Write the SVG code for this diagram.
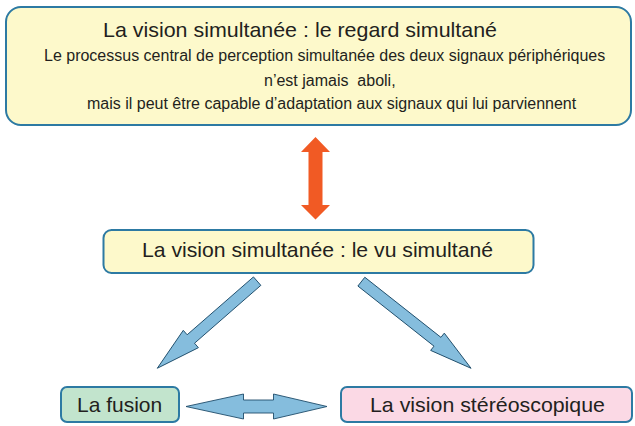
<svg xmlns="http://www.w3.org/2000/svg" width="635" height="426" viewBox="0 0 635 426">
<style>
.box{stroke:#2d7aa3;stroke-width:2}
.t{font-family:"Liberation Sans",Arial,sans-serif;fill:#231f20}
.big{font-size:21px}
.sm{font-size:16px}
.blue{fill:#85bddd;stroke:#1f4d6b;stroke-width:0.9;stroke-linejoin:miter}
</style>
<rect width="635" height="426" fill="#ffffff"/>
<g id="node-regard">
<rect class="box" x="6" y="7" width="625" height="118" rx="15" fill="#fdf9cb"/>
<text class="t big" x="103" y="37" textLength="394" lengthAdjust="spacingAndGlyphs">La vision simultanée : le regard simultané</text>
<text class="t sm" x="44" y="61">Le processus central de perception simultanée des deux signaux périphériques</text>
<text class="t sm" x="264" y="86" xml:space="preserve">n’est jamais  aboli,</text>
<text class="t sm" x="87" y="109">mais il peut être capable d’adaptation aux signaux qui lui parviennent</text>
</g>
<g id="node-vu">
<rect class="box" x="103.5" y="230" width="430" height="43" rx="8" fill="#fdf9cb"/>
<text class="t big" x="142" y="257" textLength="351" lengthAdjust="spacingAndGlyphs">La vision simultanée : le vu simultané</text>
</g>
<g id="node-fusion">
<rect class="box" x="61" y="387" width="118" height="35" rx="6" fill="#c2e4cd"/>
<text class="t big" x="77" y="412">La fusion</text>
</g>
<g id="node-stereo">
<rect class="box" x="341" y="387" width="291" height="35" rx="6" fill="#fbd9e5"/>
<text class="t big" x="370" y="412" textLength="235" lengthAdjust="spacingAndGlyphs">La vision stéréoscopique</text>
</g>
<g id="connectors">
<polygon fill="#f15a24" points="315.5,137 330,152 322.5,152 322.5,205 330,205 315.5,219.5 301,205 308.5,205 308.5,152 301,152"/>
<polygon class="blue" transform="translate(257.15,281.15) rotate(138.9)" points="0,-5.6 88,-5.6 88,-11.5 132.5,0 88,11.5 88,5.6 0,5.6"/>
<polygon class="blue" transform="translate(361.35,281.65) rotate(38.3)" points="0,-5.6 97,-5.6 97,-11 139.8,0 97,11 97,5.6 0,5.6"/>
<polygon class="blue" points="186,406.5 243.5,394 243.5,400 273.5,400 273.5,394 327,406.5 273.5,419 273.5,413 243.5,413 243.5,419"/>
</g>
</svg>
